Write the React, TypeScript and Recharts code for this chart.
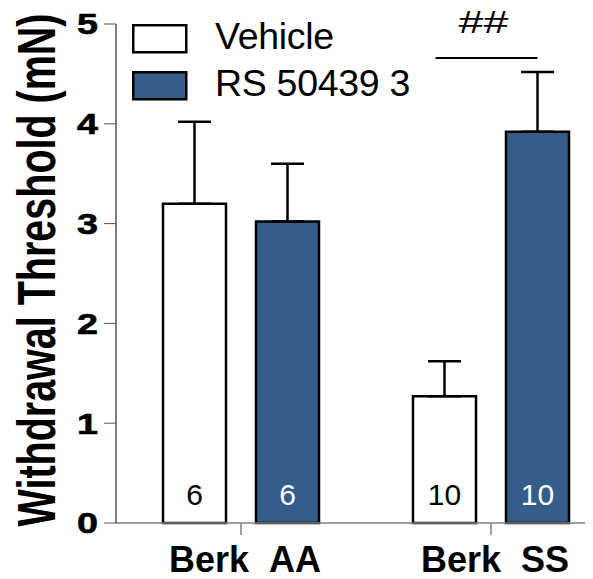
import { BarChart, Bar, XAxis, YAxis, ErrorBar, LabelList, Legend } from "recharts";

const categories = ["Berk AA", "Berk SS"];
const seriesNames = ["Vehicle", "RS 50439 3"];
const vehicleMean = [3.2, 1.27];
const vehicleSem = [0.82, 0.35];
const rsMean = [3.02, 3.92];
const rsSem = [0.58, 0.6];
const vehicleN = [6, 10];
const rsN = [6, 10];
const sigLevel = [null, 4.66];
const sigMark = ["", "##"];
const yTicks = [0, 1, 2, 3, 4, 5];

const BLUE = "#355d89";
const FONT = "'Liberation Sans', Arial, sans-serif";

const data = categories.map((name, i) => ({
  name,
  vehicle: vehicleMean[i],
  rs: rsMean[i],
  vehicleErr: [0, vehicleSem[i]],
  rsErr: [0, rsSem[i]],
  vehicleN: vehicleN[i],
  rsN: rsN[i],
  sig: sigLevel[i],
  sigMark: sigMark[i],
}));

const box = (p: any) => {
  const vb = p.viewBox || {};
  return {
    x: p.x ?? vb.x,
    y: p.y ?? vb.y,
    width: p.width ?? vb.width,
    height: p.height ?? vb.height,
  };
};

const nLabel = (color: string) => (p: any) => {
  const { x, y, width, height } = box(p);
  return (
    <text
      x={x + width / 2}
      y={y + height - 18}
      textAnchor="middle"
      fontSize={30}
      fontFamily={FONT}
      fill={color}
    >
      {p.value}
    </text>
  );
};

// significance bar over the RS bar, scaled from the bar's own height/value
const sigLabel = (p: any) => {
  const row = data[p.index];
  if (!row || row.sig == null) return null;
  const { x, y, width, height } = box(p);
  const perUnit = height / row.rs;
  const base = y + height;
  const ly = base - row.sig * perUnit;
  const x2 = x + width / 2;
  const x1 = x2 - 102;
  return (
    <g>
      <line x1={x1} x2={x2} y1={ly} y2={ly} stroke="#000" strokeWidth={2} />
      <text
        transform={`translate(${(x1 + x2) / 2 - 3},${ly - 25}) scale(1.4,1)`}
        textAnchor="middle"
        fontSize={32}
        fontFamily={FONT}
        fill="#000"
      >
        {row.sigMark}
      </text>
    </g>
  );
};

const YTick = ({ x, y, payload }: any) => (
  <text
    transform={`translate(${x},${y}) scale(1.3,1)`}
    textAnchor="end"
    dy="0.36em"
    fontSize={29}
    fontWeight="bold"
    fontFamily={FONT}
    fill="#000"
    stroke="#000"
    strokeWidth={0.6}
  >
    {payload.value}
  </text>
);

const XTick = ({ x, y, payload }: any) => (
  <text
    x={x + 4}
    y={y}
    dy={35}
    textAnchor="middle"
    fontSize={36}
    fontWeight="bold"
    fontFamily={FONT}
    fill="#000"
  >
    {payload.value.replace(" ", "\u00a0\u00a0")}
  </text>
);

const LegendBox = ({ payload }: any) => {
  const items = [...(payload || [])].sort(
    (a: any, b: any) => seriesNames.indexOf(a.value) - seriesNames.indexOf(b.value)
  );
  return (
    <svg width={320} height={110} style={{ display: "block" }}>
      {items.map((item: any, i: number) => (
        <g key={item.value} transform={`translate(0,${10 + i * 47})`}>
          <rect
            x={1.25}
            y={1.25}
            width={53}
            height={27}
            fill={item.color}
            stroke="#000"
            strokeWidth={2.5}
          />
          <text x={83} y={25} fontSize={37.5} letterSpacing={-0.3} fontFamily={FONT} fill="#000">
            {item.value}
          </text>
        </g>
      ))}
    </svg>
  );
};

export default function App() {
  return (
    <div style={{ width: 585, height: 579, marginTop: -8, overflow: "hidden", fontFamily: FONT }}>
      <BarChart
        width={608}
        height={579}
        data={data}
        margin={{ top: 24, right: 0, left: 0, bottom: 0 }}
        barSize={63}
        barGap={30}
      >
        <XAxis
          dataKey="name"
          height={56}
          axisLine={{ stroke: "#808080", strokeWidth: 1.5 }}
          tickLine={{ stroke: "#808080", strokeWidth: 1.5 }}
          tickSize={12}
          tick={<XTick />}
          interval={0}
        />
        <YAxis
          width={108}
          domain={[0, 5]}
          ticks={yTicks}
          interval={0}
          axisLine={{ stroke: "#000", strokeWidth: 1 }}
          tickLine={{ stroke: "#555", strokeWidth: 1 }}
          tickSize={12}
          tickMargin={6}
          tick={<YTick />}
          label={{
            value: "Withdrawal Threshold (mN)",
            content: () => (
              <text
                transform="translate(47,270) scale(1.35,1) rotate(-90)"
                textAnchor="middle"
                fontSize={39.5}
                fontWeight="bold"
                fontFamily={FONT}
                fill="#000"
              >
                Withdrawal Threshold (mN)
              </text>
            ),
          }}
        />
        <Legend
          layout="vertical"
          verticalAlign="middle"
          align="center"
          wrapperStyle={{ top: 14, left: 124, width: 320, height: 110 }}
          content={<LegendBox />}
        />
        <Bar
          dataKey="vehicle"
          name="Vehicle"
          fill="#ffffff"
          stroke="#000"
          strokeWidth={2.5}
          isAnimationActive={false}
        >
          <ErrorBar dataKey="vehicleErr" direction="y" width={16.5} stroke="#000" strokeWidth={2.5} />
          <LabelList dataKey="vehicleN" content={nLabel("#000")} />
        </Bar>
        <Bar
          dataKey="rs"
          name="RS 50439 3"
          fill={BLUE}
          stroke="#000"
          strokeWidth={2.5}
          isAnimationActive={false}
        >
          <ErrorBar dataKey="rsErr" direction="y" width={16.5} stroke="#000" strokeWidth={2.5} />
          <LabelList dataKey="rsN" content={nLabel("#ffffff")} />
          <LabelList dataKey="sig" content={sigLabel} />
        </Bar>
      </BarChart>
    </div>
  );
}
